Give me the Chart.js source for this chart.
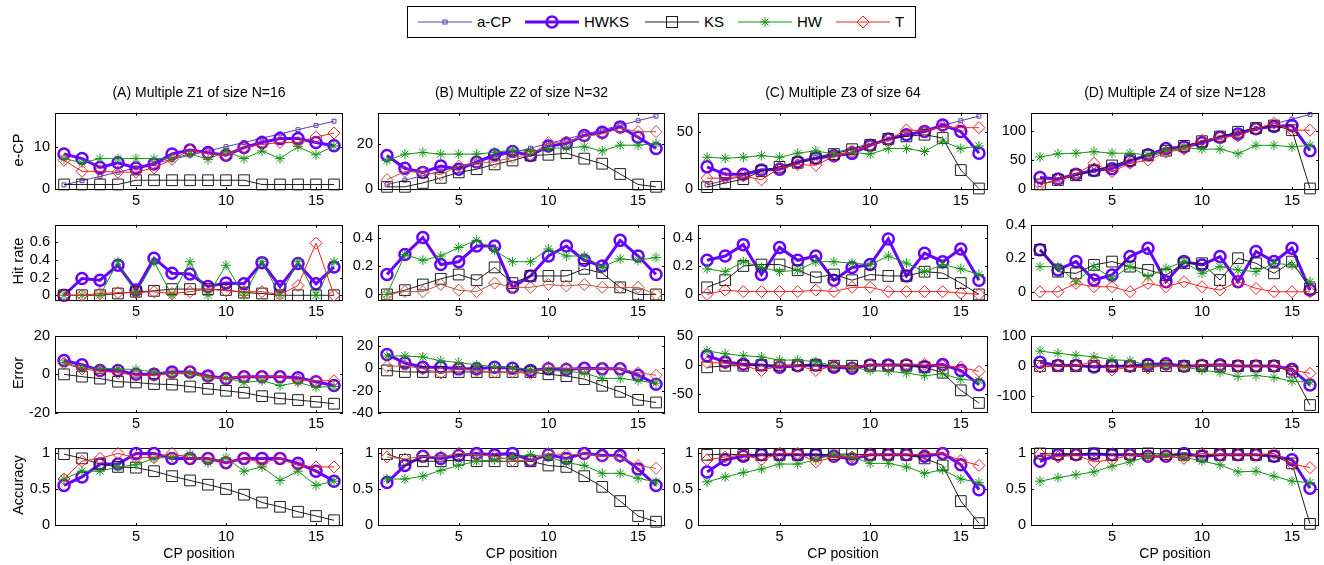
<!DOCTYPE html>
<html>
<head>
<meta charset="utf-8">
<script src="https://cdn.jsdelivr.net/npm/chart.js@4.4.0/dist/chart.umd.min.js"></script>
<style>
   body { margin: 0; background: #fff; font-family: "Liberation Sans", Arial, sans-serif; }
   #wrap { position: relative; width: 1324px; height: 565px; overflow: hidden; background: #fff; }
   #wrap canvas { position: absolute; }
   .txt { position: absolute; color: #000; white-space: nowrap; font-size: 14px; line-height: 16px; }
   .ylab { transform: translate(-50%, -50%) rotate(-90deg); font-size: 14.5px; }
   .ctr { transform: translateX(-50%); }
   #legend { position: absolute; left: 407px; top: 6px; width: 507px; height: 30px; border: 1px solid #000; background: #fff; }
   #legend .item { position: absolute; top: 5px; height: 20px; }
   #legend svg { position: absolute; top: 0; left: 0; }
   #legend span { position: absolute; top: 1px; font-size: 15px; line-height: 18px; white-space: nowrap; }
</style>
</head>
<body>
<div id="wrap">
   <div id="legend"></div>
</div>
<script>
// CP positions on the x axis
const cpPos = [1, 2, 3, 4, 5, 6, 7, 8, 9, 10, 11, 12, 13, 14, 15, 16];
const xTicks = [5, 10, 15];

// (A) Multiple Z1 of size N=16
const ecpA_aCP = [1, 2, 3, 4, 5, 6, 7, 8, 9, 10, 11, 12, 13, 14, 15, 16];
const ecpA_HWKS = [8.3, 7.2, 5.1, 6.2, 5.0, 5.9, 8.3, 9.2, 8.6, 8.0, 9.8, 11.0, 11.9, 11.9, 11.0, 10.2];
const ecpA_KS = [1.1, 1.1, 1.1, 1.1, 2.1, 2.1, 2.1, 2.1, 2.1, 2.1, 2.1, 1.1, 1.1, 1.1, 1.1, 1.1];
const ecpA_HW = [7.2, 6.2, 7.2, 7.2, 7.2, 7.2, 7.2, 8.3, 7.0, 8.9, 7.2, 9.0, 7.2, 10.0, 8.1, 10.2];
const ecpA_T = [6.8, 4.2, 4.2, 4.0, 4.0, 5.0, 7.0, 9.2, 8.3, 8.0, 9.8, 10.5, 11.0, 11.0, 12.3, 13.2];
const hitA_HWKS = [0, 0.19, 0.17, 0.34, 0.06, 0.42, 0.25, 0.24, 0.10, 0.14, 0.13, 0.37, 0.10, 0.36, 0.13, 0.32];
const hitA_KS = [0, 0, 0, 0.02, 0.04, 0.05, 0.07, 0.07, 0.07, 0.06, 0.03, 0.02, 0, 0, 0, 0];
const hitA_HW = [0, 0, 0, 0.38, 0.02, 0.38, 0, 0.38, 0, 0.34, 0, 0.38, 0, 0.38, 0, 0.38];
const hitA_T = [0, 0, 0.02, 0.03, 0.03, 0.04, 0.02, 0.04, 0.07, 0.05, 0.04, 0.04, 0.01, 0.11, 0.59, 0];
const errA_HWKS = [7.2, 5.0, 2.0, 2.0, 0, 0, 1.2, 1.2, -0.8, -2.2, -1.2, -1.2, -1.2, -1.7, -3.8, -5.8];
const errA_KS = [0, -1.2, -2.2, -3.8, -4.2, -5.0, -5.3, -6.3, -7.5, -8.5, -9.5, -11.3, -12.5, -13.3, -14.2, -15.2];
const errA_HW = [6.2, 3.3, 3.2, 2.8, 2.5, 1.2, 0.3, 0.3, -1.8, -1.8, -4.2, -3.3, -5.8, -4.2, -6.7, -6.2];
const errA_T = [5.8, 2.8, 1.7, 0.8, -0.5, -0.5, 0.5, 1.2, -1.2, -2.2, -1.2, -1.2, -1.2, -2.8, -3.3, -3.3];
const accA_HWKS = [0.55, 0.67, 0.85, 0.85, 1.0, 1.0, 0.93, 0.93, 0.93, 0.87, 0.93, 0.93, 0.93, 0.86, 0.75, 0.61];
const accA_KS = [0.99, 0.93, 0.85, 0.81, 0.80, 0.75, 0.68, 0.62, 0.56, 0.50, 0.42, 0.31, 0.25, 0.18, 0.12, 0.06];
const accA_HW = [0.64, 0.75, 0.75, 0.81, 0.84, 0.93, 0.95, 0.99, 0.87, 0.94, 0.75, 0.81, 0.62, 0.75, 0.55, 0.61];
const accA_T = [0.64, 0.89, 0.93, 1.0, 0.94, 0.94, 1.0, 0.93, 0.93, 0.87, 0.93, 0.87, 0.93, 0.83, 0.81, 0.81];

// (B) Multiple Z2 of size N=32
const ecpB_aCP = [2, 4, 6, 8, 10, 12, 14, 16, 18, 20, 22, 24, 26, 28, 30, 32];
const ecpB_HWKS = [14.8, 9.2, 7.4, 10.2, 8.8, 11.9, 15.1, 16.5, 14.8, 18.9, 20.0, 23.5, 24.9, 27.3, 22.8, 17.9];
const ecpB_KS = [1.1, 1.1, 2.8, 5.0, 7.4, 8.8, 10.9, 12.6, 14.8, 15.1, 15.8, 13.4, 11.2, 6.7, 2.1, 1.1];
const ecpB_HW = [12.6, 15.4, 16.1, 15.4, 15.4, 15.4, 16.2, 17.2, 16.5, 17.9, 18.2, 18.6, 16.8, 19.3, 19.3, 20.0];
const ecpB_T = [4.2, 7.8, 7.4, 6.4, 10.2, 11.6, 12.0, 14.0, 15.1, 20.4, 20.7, 23.1, 24.2, 26.7, 25.2, 25.2];
const hitB_HWKS = [0.14, 0.28, 0.40, 0.21, 0.23, 0.34, 0.34, 0.05, 0.13, 0.27, 0.34, 0.24, 0.20, 0.38, 0.27, 0.14];
const hitB_KS = [0, 0.03, 0.07, 0.11, 0.14, 0.10, 0.19, 0.08, 0.13, 0.13, 0.13, 0.18, 0.15, 0.05, 0, 0];
const hitB_HW = [0, 0.28, 0.24, 0.27, 0.33, 0.38, 0.31, 0.23, 0.23, 0.32, 0.27, 0.27, 0.19, 0.25, 0.24, 0.26];
const hitB_T = [0, 0.02, 0.02, 0.07, 0.03, 0.02, 0.08, 0.05, 0.05, 0.07, 0.06, 0.07, 0.05, 0.05, 0.05, 0];
const errB_HWKS = [12.3, 4.6, 0.9, 0.9, -0.6, -0.6, 0.9, 0, -2, -0.6, -1.1, 0, -0.6, -0.6, -6.3, -14.3];
const errB_KS = [-2, -3.4, -3.4, -3.4, -3.4, -3.4, -3.4, -3.4, -3.4, -5.4, -7.1, -9.7, -15.7, -21.1, -28.3, -30.6];
const errB_HW = [10.9, 10.9, 10.0, 6.6, 5.1, 2.9, 1.4, 0.3, -1.4, -2, -2.9, -4.3, -9.1, -9.1, -11.1, -13.4];
const errB_T = [1.4, 2.3, -0.6, -4.3, -0.6, -2, -3.4, -3.4, -4.9, 0.9, 0, -0.6, -0.6, -0.6, -4, -6.3];
const accB_HWKS = [0.59, 0.83, 0.96, 0.93, 0.97, 1.0, 0.98, 1.0, 0.90, 0.98, 0.93, 1.0, 0.97, 0.97, 0.78, 0.55];
const accB_KS = [0.99, 0.91, 0.89, 0.89, 0.91, 0.89, 0.89, 0.89, 0.89, 0.83, 0.81, 0.68, 0.53, 0.33, 0.12, 0.04];
const accB_HW = [0.64, 0.64, 0.68, 0.76, 0.83, 0.89, 0.91, 0.95, 0.98, 0.95, 0.87, 0.83, 0.72, 0.72, 0.65, 0.60];
const accB_T = [0.95, 0.92, 0.96, 0.95, 1.0, 0.98, 0.96, 0.90, 0.90, 1.0, 0.98, 0.99, 0.96, 0.95, 0.83, 0.79];

// (C) Multiple Z3 of size 64
const ecpC_aCP = [4, 8, 12, 16, 20, 24, 28, 32, 36, 40, 44, 48, 52, 56, 60, 64];
const ecpC_HWKS = [19.7, 13.2, 13.2, 16.9, 17.7, 23.9, 27.2, 29.5, 31.5, 38.5, 44.1, 47.8, 50.6, 56.2, 50.6, 31.7];
const ecpC_KS = [2, 5.6, 9.0, 16.0, 19.7, 23.3, 27.2, 30.9, 35.1, 38.8, 44.1, 46.3, 47.8, 44.9, 16.9, 0.8];
const ecpC_HW = [28.1, 27.2, 28.1, 29.5, 28.1, 31.7, 33.7, 30.9, 32.3, 30.9, 35.7, 35.7, 33.1, 42.1, 35.7, 37.9];
const ecpC_T = [9.8, 9.8, 11.8, 8.4, 18.8, 21.6, 21.1, 28.9, 32.9, 38.5, 43.5, 52.0, 51.1, 54.8, 53.9, 53.9];
const hitC_HWKS = [0.24, 0.27, 0.35, 0.14, 0.33, 0.24, 0.27, 0.10, 0.19, 0.21, 0.39, 0.13, 0.29, 0.23, 0.32, 0.10];
const hitC_KS = [0.05, 0.10, 0.20, 0.21, 0.21, 0.17, 0.12, 0.14, 0.10, 0.14, 0.13, 0.13, 0.16, 0.15, 0.08, 0];
const hitC_HW = [0.18, 0.16, 0.23, 0.19, 0.16, 0.17, 0.23, 0.23, 0.22, 0.21, 0.27, 0.22, 0.16, 0.21, 0.18, 0.14];
const hitC_T = [0, 0.03, 0.02, 0.02, 0.02, 0.02, 0.03, 0.02, 0.05, 0.05, 0.02, 0.02, 0.02, 0.02, 0.01, 0];
const errC_HWKS = [16.4, 5.5, 1.6, 0, -3.8, -1.1, 0, -3.8, -5.5, 0, 0, 0, -2.7, 1, -9.3, -33.9];
const errC_KS = [-3.8, -1.1, -1.1, 0, 0, 0, 0, -1.1, -1.1, -1.1, -1.1, -1.1, -3.8, -13.1, -43.7, -65.6];
const errC_HW = [24.6, 19.7, 16.4, 14.2, 8.7, 8.7, 6, -1.1, -3.8, -9.3, -10.9, -13.7, -18.6, -14.8, -24.6, -26.8];
const errC_T = [4.4, 3.3, -1.1, -9.3, -1.1, -1.1, -9.3, -1.1, -3.8, 0, -1.1, 1.6, 1.6, -1.1, -3.8, -10.9];
const accC_HWKS = [0.74, 0.91, 0.96, 0.98, 0.98, 0.98, 0.98, 0.96, 0.92, 0.98, 0.98, 0.98, 0.96, 1.0, 0.84, 0.49];
const accC_KS = [0.98, 0.99, 0.98, 0.98, 0.98, 0.98, 0.98, 0.99, 0.99, 0.98, 0.98, 0.98, 0.93, 0.83, 0.33, 0.02];
const accC_HW = [0.60, 0.67, 0.73, 0.78, 0.85, 0.85, 0.91, 0.99, 0.95, 0.86, 0.86, 0.81, 0.72, 0.77, 0.64, 0.59];
const accC_T = [0.91, 0.95, 0.98, 0.91, 1.0, 1.0, 0.88, 0.95, 0.95, 0.98, 0.98, 0.98, 0.99, 1.0, 0.90, 0.83];

// (D) Multiple Z4 of size N=128
const ecpD_aCP = [8, 16, 24, 32, 40, 48, 56, 64, 72, 80, 88, 96, 104, 112, 120, 128];
const ecpD_HWKS = [20.4, 17.7, 25.8, 32.3, 35.5, 48.4, 59.1, 69.9, 72.6, 79.6, 89.2, 94.6, 103.8, 107.5, 109.1, 66.1];
const ecpD_KS = [8.6, 16.1, 24.2, 32.3, 40.9, 50.0, 58.1, 66.1, 74.2, 82.3, 90.3, 98.4, 104.8, 109.1, 101.1, 1.6];
const ecpD_HW = [55.4, 60.8, 61.8, 64.5, 61.8, 61.8, 59.1, 67.2, 71.5, 68.8, 68.8, 60.8, 75.3, 75.3, 72.6, 75.3];
const ecpD_T = [8.6, 16.1, 25.8, 44.6, 30.1, 44.6, 50.0, 63.4, 68.8, 83.9, 88.7, 91.4, 103.8, 112.9, 101.1, 101.1];
const hitD_HWKS = [0.25, 0.13, 0.18, 0.07, 0.10, 0.21, 0.26, 0.06, 0.18, 0.16, 0.21, 0.06, 0.24, 0.18, 0.26, 0.01];
const hitD_KS = [0.25, 0.12, 0.11, 0.16, 0.18, 0.15, 0.13, 0.10, 0.17, 0.17, 0.07, 0.20, 0.17, 0.11, 0.18, 0.02];
const hitD_HW = [0.15, 0.15, 0.06, 0.15, 0.08, 0.15, 0.09, 0.14, 0.18, 0.11, 0.15, 0.13, 0.12, 0.17, 0.16, 0.06];
const hitD_T = [0, 0, 0.05, 0.03, 0.03, 0, 0.05, 0.03, 0.06, 0.03, 0.01, 0.06, 0.02, 0, 0, 0];
const errD_HWKS = [12.6, 2.1, 2.1, -3.1, -1, 0, 5.2, 7.3, -1, 2.1, 4.2, 0, 0, 0, -10.5, -62.8];
const errD_KS = [0, 0, 0, 0, 0, 0, 0, 0, 0, 0, 0, 0, 0, 0, -18.8, -128.8];
const errD_HW = [49.2, 41.9, 35.6, 30.4, 20.9, 17.8, 2.1, 2.1, -3.1, -13.6, -20.9, -34.6, -31.4, -37.7, -50.3, -53.4];
const errD_T = [-3.1, 0, 0, 14.7, -13.6, -3.1, -6.3, 2.1, -3.1, 4.2, 2.1, 0, 0, 0, -13.6, -24.1];
const accD_HWKS = [0.89, 0.98, 0.98, 0.99, 0.98, 0.98, 0.96, 0.96, 1.0, 0.96, 0.98, 0.98, 0.98, 0.96, 0.91, 0.51];
const accD_KS = [1.0, 0.99, 0.99, 1.0, 0.98, 0.99, 1.0, 0.99, 0.98, 0.96, 0.98, 0.98, 0.98, 0.96, 0.86, 0.01];
const accD_HW = [0.61, 0.66, 0.70, 0.74, 0.82, 0.88, 0.96, 0.98, 0.95, 0.89, 0.84, 0.74, 0.75, 0.68, 0.61, 0.59];
const accD_T = [0.99, 0.95, 0.98, 0.88, 0.91, 0.98, 0.96, 0.96, 0.93, 1.0, 0.98, 0.98, 0.98, 1.0, 0.85, 0.80];

// titles, row labels and y tick labels
const panelTitles = ["(A) Multiple Z1 of size N=16", "(B) Multiple Z2 of size N=32", "(C) Multiple Z3 of size 64", "(D) Multiple Z4 of size N=128"];
const rowLabels = ["e-CP", "Hit rate", "Error", "Accuracy"];
const ecpTicks = [[0, 10], [0, 20], [0, 50], [0, 50, 100]];
const hitTicks = [[0, 0.2, 0.4, 0.6], [0, 0.2, 0.4], [0, 0.2, 0.4], [0, 0.2, 0.4]];
const errTicks = [[-20, 0, 20], [-40, -20, 0, 20], [-50, 0, 50], [-100, 0, 100]];
const accTicks = [[0, 0.5, 1], [0, 0.5, 1], [0, 0.5, 1], [0, 0.5, 1]];

// axis limits per row, per column
const ecpLimits = [[-0.2, 18], [-0.3, 33.5], [-0.5, 67], [-1, 131]];
const hitLimits = [[-0.065, 0.8], [-0.046, 0.49], [-0.046, 0.49], [-0.055, 0.4]];
const errLimits = [[-20, 20], [-40, 29], [-83, 51], [-155, 100]];
const accLimits = [[-0.02, 1.08], [-0.02, 1.08], [-0.02, 1.08], [-0.02, 1.08]];

// layout of the plot boxes (pixels)
const colBox = [{ l: 55, w: 288 }, { l: 378, w: 287 }, { l: 698, w: 290 }, { l: 1031, w: 288 }];
const rowBox = [{ t: 109, h: 81 }, { t: 221, h: 80 }, { t: 332, h: 81 }, { t: 444, h: 82 }];
const PAD_L = 50, PAD_T = 10, PAD_R = 10, PAD_B = 24;

const FONT = "'Liberation Sans', Arial, sans-serif";
Chart.defaults.font.family = FONT;
Chart.defaults.color = "#000";

// series looks (matlab-ish)
const styles = {
   "a-CP": { color: "rgb(92,62,176)", width: 1, point: "rect", radius: 2.8, pw: 1, order: 5 },
   HWKS: { color: "rgb(102,0,255)", width: 3, point: "circle", radius: 5.5, pw: 2.5, order: 4 },
   KS: { color: "rgb(30,30,30)", width: 1, point: "rect", radius: 7.6, pw: 1, order: 3 },
   HW: { color: "rgb(20,150,20)", width: 1, point: "star", radius: 5, pw: 1, order: 2 },
   T: { color: "rgb(235,35,35)", width: 1, point: "rectRot", radius: 6, pw: 1, order: 1 },
};
const brownT = "rgb(195,80,60)";

const wrap = document.getElementById("wrap");

// box + inward ticks like a matlab axes
const framePlugin = {
   id: "frame",
   beforeDatasetsDraw(chart) {
      const { ctx, chartArea: a, scales } = chart;
      const tl = 3;
      ctx.save();
      ctx.strokeStyle = "#000";
      ctx.lineWidth = 1;
      ctx.strokeRect(Math.round(a.left) + 0.5, Math.round(a.top) + 0.5, Math.round(a.width) - 1, Math.round(a.height) - 1);
      ctx.beginPath();
      scales.x.ticks.forEach((t) => {
         const px = Math.round(scales.x.getPixelForValue(t.value)) + 0.5;
         ctx.moveTo(px, a.bottom); ctx.lineTo(px, a.bottom - tl);
         ctx.moveTo(px, a.top); ctx.lineTo(px, a.top + tl);
      });
      scales.y.ticks.forEach((t) => {
         const py = Math.round(scales.y.getPixelForValue(t.value)) + 0.5;
         ctx.moveTo(a.left, py); ctx.lineTo(a.left + tl, py);
         ctx.moveTo(a.right, py); ctx.lineTo(a.right - tl, py);
      });
      ctx.stroke();
      ctx.restore();
   },
};

function makeDataset(name, vals, col) {
   const s = styles[name];
   const c = name === "T" && col === 1 ? brownT : s.color;
   return {
      label: name,
      data: cpPos.map((x, i) => ({ x: x, y: vals[i] })),
      borderColor: c,
      borderWidth: s.width,
      pointStyle: s.point,
      pointRadius: s.radius,
      pointBorderColor: c,
      pointBackgroundColor: "rgba(0,0,0,0)",
      pointBorderWidth: s.pw,
      tension: 0,
      clip: false,
      order: s.order,
   };
}

function makePanel(col, row, series, limits, ticks) {
   const cb = colBox[col], rb = rowBox[row];
   const W = PAD_L + cb.w + PAD_R, H = PAD_T + rb.h + PAD_B;
   const canvas = document.createElement("canvas");
   canvas.width = W;
   canvas.height = H;
   canvas.style.width = W + "px";
   canvas.style.height = H + "px";
   canvas.style.left = cb.l - PAD_L + "px";
   canvas.style.top = rb.t - PAD_T + "px";
   wrap.appendChild(canvas);

   new Chart(canvas, {
      type: "line",
      data: { datasets: series.map(([name, vals]) => makeDataset(name, vals, col)) },
      options: {
         responsive: false,
         animation: false,
         events: [],
         layout: { padding: { top: PAD_T, right: PAD_R, left: 0, bottom: 0 } },
         plugins: { legend: { display: false }, tooltip: { enabled: false } },
         scales: {
            x: {
               type: "linear",
               min: 0.5,
               max: 16.5,
               grid: { display: false, drawTicks: false },
               border: { display: false },
               afterBuildTicks: (s) => { s.ticks = xTicks.map((v) => ({ value: v })); },
               afterFit: (s) => { s.height = PAD_B; },
               ticks: { font: { size: 14.5 }, padding: 2, maxRotation: 0, autoSkip: false, callback: (v) => String(v) },
            },
            y: {
               type: "linear",
               min: limits[0],
               max: limits[1],
               grid: { display: false, drawTicks: false },
               border: { display: false },
               afterBuildTicks: (s) => { s.ticks = ticks.map((v) => ({ value: v })); },
               afterFit: (s) => { s.width = PAD_L; },
               ticks: { font: { size: 14.5 }, padding: 5, autoSkip: false, callback: (v) => String(v) },
            },
         },
      },
      plugins: [framePlugin],
   });
}

const columns = [
   { ecp: [ecpA_aCP, ecpA_HWKS, ecpA_KS, ecpA_HW, ecpA_T], hit: [hitA_HWKS, hitA_KS, hitA_HW, hitA_T], err: [errA_HWKS, errA_KS, errA_HW, errA_T], acc: [accA_HWKS, accA_KS, accA_HW, accA_T] },
   { ecp: [ecpB_aCP, ecpB_HWKS, ecpB_KS, ecpB_HW, ecpB_T], hit: [hitB_HWKS, hitB_KS, hitB_HW, hitB_T], err: [errB_HWKS, errB_KS, errB_HW, errB_T], acc: [accB_HWKS, accB_KS, accB_HW, accB_T] },
   { ecp: [ecpC_aCP, ecpC_HWKS, ecpC_KS, ecpC_HW, ecpC_T], hit: [hitC_HWKS, hitC_KS, hitC_HW, hitC_T], err: [errC_HWKS, errC_KS, errC_HW, errC_T], acc: [accC_HWKS, accC_KS, accC_HW, accC_T] },
   { ecp: [ecpD_aCP, ecpD_HWKS, ecpD_KS, ecpD_HW, ecpD_T], hit: [hitD_HWKS, hitD_KS, hitD_HW, hitD_T], err: [errD_HWKS, errD_KS, errD_HW, errD_T], acc: [accD_HWKS, accD_KS, accD_HW, accD_T] },
];
const fourNames = ["HWKS", "KS", "HW", "T"];
const fiveNames = ["a-CP", "HWKS", "KS", "HW", "T"];

columns.forEach((c, col) => {
   makePanel(col, 0, fiveNames.map((n, i) => [n, c.ecp[i]]), ecpLimits[col], ecpTicks[col]);
   makePanel(col, 1, fourNames.map((n, i) => [n, c.hit[i]]), hitLimits[col], hitTicks[col]);
   makePanel(col, 2, fourNames.map((n, i) => [n, c.err[i]]), errLimits[col], errTicks[col]);
   makePanel(col, 3, fourNames.map((n, i) => [n, c.acc[i]]), accLimits[col], accTicks[col]);

   const cx = colBox[col].l + colBox[col].w / 2;
   const t = document.createElement("div");
   t.className = "txt ctr";
   t.style.left = cx + "px";
   t.style.top = "84px";
   t.textContent = panelTitles[col];
   wrap.appendChild(t);

   const xl = document.createElement("div");
   xl.className = "txt ctr";
   xl.style.left = cx + "px";
   xl.style.top = "545px";
   xl.textContent = "CP position";
   wrap.appendChild(xl);
});

rowLabels.forEach((lab, row) => {
   const d = document.createElement("div");
   d.className = "txt ylab";
   d.style.left = "18px";
   d.style.top = rowBox[row].t + rowBox[row].h / 2 + "px";
   d.textContent = lab;
   wrap.appendChild(d);
});

// legend (line + marker swatches)
const legendSpots = [
   { name: "a-CP", x: 10 }, { name: "HWKS", x: 117 }, { name: "KS", x: 237 }, { name: "HW", x: 330 }, { name: "T", x: 428 },
];
function markerSvg(name) {
   const s = styles[name];
   const c = s.color;
   let m = "";
   if (name === "a-CP") m = `<rect x="25" y="8" width="4" height="4" fill="none" stroke="${c}" stroke-width="1"/>`;
   if (name === "HWKS") m = `<circle cx="27" cy="10" r="5.5" fill="none" stroke="${c}" stroke-width="2.5"/>`;
   if (name === "KS") m = `<rect x="21.5" y="4.5" width="11" height="11" fill="none" stroke="${c}" stroke-width="1"/>`;
   if (name === "HW") m = `<path d="M22 10H32M27 5V15M23.5 6.5L30.5 13.5M30.5 6.5L23.5 13.5" stroke="${c}" stroke-width="1"/>`;
   if (name === "T") m = `<path d="M27 4L33 10L27 16L21 10Z" fill="none" stroke="${c}" stroke-width="1"/>`;
   return `<svg width="54" height="20"><line x1="0" y1="10" x2="54" y2="10" stroke="${c}" stroke-width="${s.width}"/>${m}</svg>`;
}
const legend = document.getElementById("legend");
legendSpots.forEach((it) => {
   const d = document.createElement("div");
   d.className = "item";
   d.style.left = it.x + "px";
   d.innerHTML = markerSvg(it.name) + `<span style="left:59px">${it.name}</span>`;
   legend.appendChild(d);
});
</script>
</body>
</html>
